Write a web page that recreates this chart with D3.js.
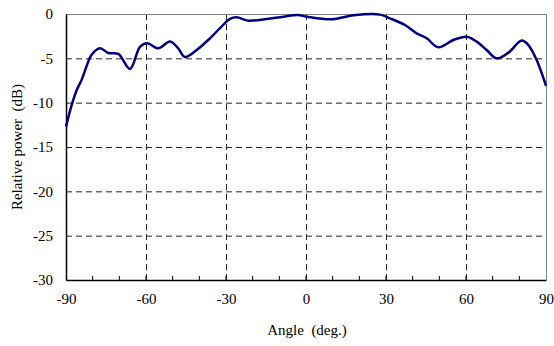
<!DOCTYPE html>
<html>
<head>
<meta charset="utf-8">
<script src="https://cdn.jsdelivr.net/npm/d3@7"></script>
<style>
body { margin: 0; background: #fff; }
text { font-family: "Liberation Serif", "Times New Roman", serif; }
</style>
</head>
<body>
<script>
// pattern data
var angles = [-90, -87.9, -86, -84.1, -82.3, -80.4, -77.25, -74.1, -70.4, -66, -62.25, -59.5, -55.4, -51, -47.9, -45.4,
              -41, -36, -32.25, -28.5, -26, -21.6, -14.75, -8.5, -3, 0.25, 9.6, 17.75, 27.75, 31.5, 37.1, 41.5,
              45.25, 49.6, 55.25, 60.25, 64, 67.75, 71.5, 75.9, 80.9, 83.4, 86.5, 90];
var power = [-12.7, -10.3, -8.6, -7.4, -5.9, -4.6, -3.87, -4.4, -4.5, -6.2, -3.7, -3.3, -3.87, -3.1, -3.87, -4.85,
             -4.06, -2.74, -1.6, -0.56, -0.38, -0.75, -0.56, -0.3, -0.12, -0.3, -0.6, -0.15, -0.07, -0.49, -1.24, -2.18,
             -2.74, -3.76, -2.93, -2.56, -3.12, -4.06, -5.0, -4.36, -3.0, -3.5, -5.2, -8.1];
var xTicks = [-90, -60, -30, 0, 30, 60, 90];
var xMinor = d3.range(-80, 90, 10);
var yTicks = [0, -5, -10, -15, -20, -25, -30];

var W = 554, H = 346;
var mLeft = 66, mRight = 546, mTop = 14, mBottom = 280;
var fmt = function(d){ return String(d); };

var svg = d3.select('body').append('svg').attr('width', W).attr('height', H);

var x = d3.scaleLinear().domain([-90, 90]).range([mLeft, mRight]);
var y = d3.scaleLinear().domain([-30, 0]).range([mBottom, mTop]);

// grid
svg.selectAll('.vgrid').data(xTicks.slice(1, -1)).enter().append('line')
    .attr('x1', function(d){ return x(d) + 0.5; }).attr('x2', function(d){ return x(d) + 0.5; })
    .attr('y1', mTop).attr('y2', mBottom)
    .attr('stroke', '#222').attr('stroke-dasharray', '6,4');
svg.selectAll('.hgrid').data(yTicks.slice(1, -1)).enter().append('line')
    .attr('x1', mLeft).attr('x2', mRight)
    .attr('y1', function(d){ return y(d) + 0.5; }).attr('y2', function(d){ return y(d) + 0.5; })
    .attr('stroke', '#222').attr('stroke-dasharray', '6,4');

// frame top/right
svg.append('line').attr('x1', mLeft).attr('x2', mRight).attr('y1', mTop + 0.5).attr('y2', mTop + 0.5).attr('stroke', '#808080');
svg.append('line').attr('x1', mRight + 0.5).attr('x2', mRight + 0.5).attr('y1', mTop).attr('y2', mBottom).attr('stroke', '#808080');

// x axis
var xAxis = svg.append('g').attr('transform', 'translate(0,' + mBottom + ')')
    .call(d3.axisBottom(x).tickValues(xTicks).tickSize(0).tickPadding(13).tickFormat(fmt));
xAxis.select('.domain').attr('stroke', '#000').attr('stroke-width', 1.5);
xAxis.selectAll('text').attr('font-size', 15).attr('font-family', '"Liberation Serif", serif').attr('fill', '#000');
svg.selectAll('.xminor').data(xMinor).enter().append('line')
    .attr('x1', function(d){ return x(d); }).attr('x2', function(d){ return x(d); })
    .attr('y1', mBottom).attr('y2', mBottom - 4).attr('stroke', '#000');

// y axis
var yAxis = svg.append('g').attr('transform', 'translate(' + mLeft + ',0)')
    .call(d3.axisLeft(y).tickValues(yTicks).tickSize(0).tickPadding(13).tickFormat(fmt));
yAxis.select('.domain').attr('stroke', '#000').attr('stroke-width', 1.5);
yAxis.selectAll('text').attr('font-size', 15).attr('font-family', '"Liberation Serif", serif').attr('fill', '#000');

// curve
var line = d3.line()
    .x(function(d, i){ return x(angles[i]); })
    .y(function(d){ return y(d); })
    .curve(d3.curveCatmullRom);
svg.append('path').datum(power).attr('d', line)
    .attr('fill', 'none').attr('stroke', '#000080').attr('stroke-width', 2.5);

// titles
svg.append('text').attr('x', (mLeft + mRight) / 2 + 1).attr('y', 335).attr('text-anchor', 'middle')
    .attr('font-size', 15).text('Angle\u00a0\u00a0(deg.)');
svg.append('text').attr('transform', 'translate(22,' + ((mTop + mBottom) / 2) + ') rotate(-90)')
    .attr('text-anchor', 'middle').attr('font-size', 15).text('Relative power\u00a0\u00a0(dB)');
</script>
</body>
</html>
